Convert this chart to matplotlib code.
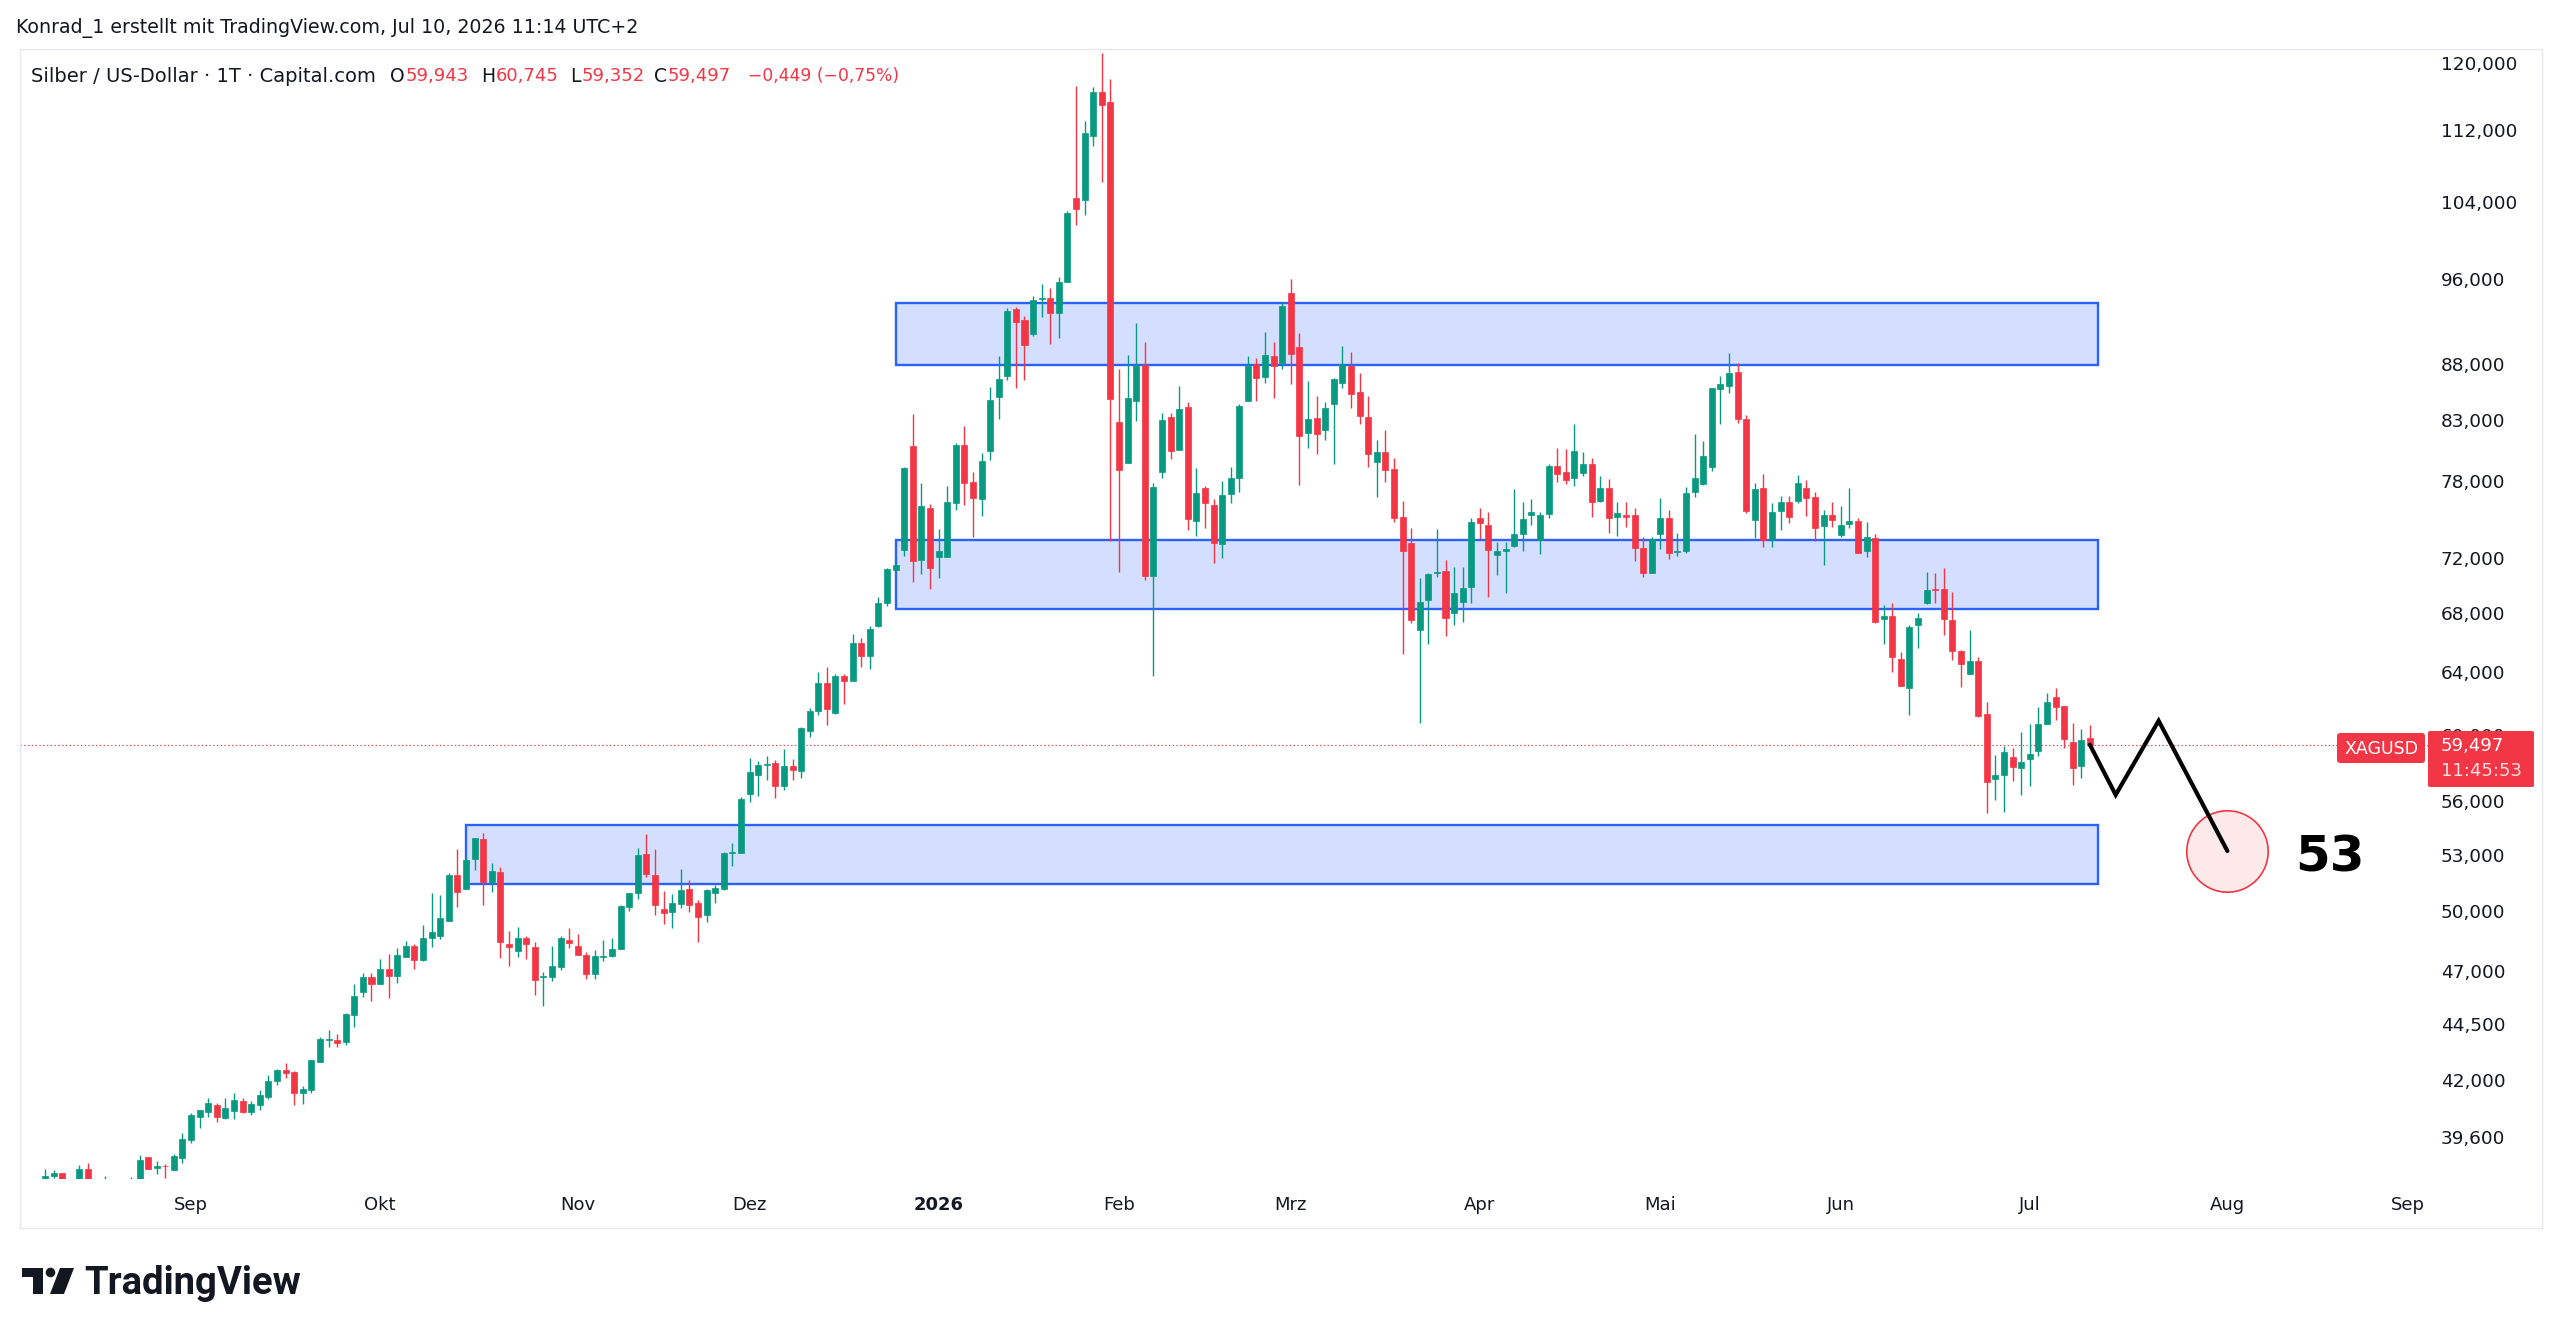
"""Silber / US-Dollar daily candles with support/resistance zones (TradingView look)."""
import matplotlib
matplotlib.use("Agg")
import matplotlib.pyplot as plt
import matplotlib.patches as mpatches
import matplotlib.transforms as mtransforms
import numpy as np
import pandas as pd

W, H, DPI = 2560, 1335, 100

GREEN = "#089981"
RED = "#f23645"
INK = "#131722"
BLUE = "#2962ff"

# trading calendar of the chart (weekdays minus a few holidays)
FIRST_DAY = "2025-08-07"
LAST_AXIS_DAY = "2026-09-30"
HOLIDAYS = ["2025-12-25", "2026-01-01", "2026-04-03"]

# daily OHLC, USD per ounce, Aug 7 2025 .. Jul 10 2026
OPEN = [
    37.95, 38.10, 38.23, 37.70, 37.90, 38.39, 37.90, 37.85, 37.95, 37.40,
    37.90, 38.00, 38.86, 38.43, 38.53, 38.36, 38.85, 39.55, 40.51, 40.72,
    41.00, 40.47, 40.75, 41.17, 40.72, 41.00, 41.35, 42.03, 42.54, 42.42,
    41.52, 41.66, 42.90, 43.85, 43.87, 43.77, 45.03, 46.09, 46.81, 46.49,
    47.21, 46.85, 47.78, 48.34, 47.65, 48.72, 48.86, 49.62, 52.01, 51.25,
    52.87, 53.97, 51.62, 52.16, 48.43, 48.11, 48.72, 48.27, 46.81, 46.81,
    47.32, 48.64, 48.34, 47.90, 46.97, 47.81, 47.86, 48.19, 50.30, 51.07,
    53.15, 52.01, 50.22, 50.05, 50.48, 51.27, 50.51, 49.91, 51.04, 51.27,
    53.23, 53.23, 56.56, 57.68, 58.29, 58.37, 57.03, 58.22, 57.92, 60.38,
    61.64, 63.40, 61.49, 63.90, 63.52, 66.08, 65.22, 67.23, 68.86, 71.27,
    72.76, 80.97, 72.01, 75.99, 72.21, 72.26, 76.38, 81.10, 78.04, 76.69,
    80.60, 85.17, 87.03, 93.29, 92.26, 90.95, 94.26, 94.36, 92.90, 95.99,
    104.68, 104.43, 111.56, 116.78, 115.59, 83.01, 79.62, 84.86, 88.07, 70.79,
    78.83, 83.50, 80.67, 84.36, 75.00, 77.55, 76.19, 73.21, 77.07, 78.34,
    84.86, 88.13, 87.01, 88.92, 88.28, 94.90, 89.74, 82.07, 83.41, 82.36,
    84.59, 86.42, 88.01, 85.63, 83.50, 79.71, 80.54, 79.10, 75.31, 73.27,
    66.99, 69.06, 71.03, 71.20, 68.20, 68.92, 70.00, 75.18, 74.66, 72.34,
    72.71, 73.09, 73.97, 75.39, 73.52, 75.52, 79.38, 78.89, 78.35, 78.81,
    79.52, 76.56, 77.55, 75.26, 75.44, 75.39, 72.89, 71.08, 73.97, 75.23,
    72.61, 72.66, 77.21, 77.90, 79.25, 85.91, 86.21, 87.41, 83.30, 75.05,
    77.53, 73.57, 75.77, 76.47, 76.52, 77.53, 76.86, 74.59, 75.43, 73.90,
    74.71, 74.93, 72.64, 73.64, 67.73, 67.99, 65.01, 63.12, 67.34, 68.91,
    69.87, 69.87, 67.69, 65.56, 64.01, 64.90, 61.42, 57.43, 57.65, 58.74,
    58.08, 58.60, 59.10, 60.80, 62.49, 61.96, 59.65, 58.18, 59.943,
]
HIGH = [
    38.39, 38.36, 38.24, 37.98, 38.55, 38.62, 37.99, 38.13, 38.00, 37.95,
    38.07, 38.96, 38.88, 38.72, 38.59, 39.00, 39.85, 40.68, 40.82, 41.32,
    41.10, 41.30, 41.53, 41.32, 41.17, 41.66, 42.30, 42.58, 42.83, 42.49,
    41.85, 42.97, 43.98, 44.32, 44.16, 45.12, 46.48, 47.03, 47.03, 47.70,
    47.92, 48.25, 48.59, 48.46, 49.40, 51.04, 50.95, 52.10, 53.41, 53.01,
    54.02, 54.30, 52.65, 52.43, 49.11, 49.31, 48.84, 48.52, 47.05, 48.34,
    48.84, 49.23, 48.92, 48.06, 48.15, 48.64, 48.72, 50.43, 51.07, 53.50,
    54.26, 53.41, 51.16, 51.00, 52.32, 51.73, 50.68, 51.27, 51.48, 53.28,
    53.78, 56.39, 58.69, 58.52, 58.83, 58.57, 59.23, 58.62, 60.63, 61.79,
    64.17, 64.45, 64.00, 64.01, 66.70, 66.42, 67.29, 69.29, 71.39, 71.71,
    79.30, 83.74, 77.96, 76.30, 74.38, 77.69, 81.29, 82.65, 78.85, 80.40,
    86.13, 88.92, 93.39, 93.46, 92.64, 94.59, 95.76, 95.40, 96.42, 103.19,
    117.51, 113.29, 117.31, 121.49, 118.28, 87.71, 88.98, 91.99, 90.21, 77.95,
    83.79, 83.79, 86.14, 84.80, 79.16, 77.76, 76.69, 78.14, 79.29, 84.57,
    88.89, 88.74, 91.12, 90.18, 93.95, 96.21, 91.00, 86.65, 85.33, 84.80,
    86.89, 89.80, 89.28, 87.32, 85.30, 81.51, 82.36, 79.98, 76.53, 74.40,
    70.67, 71.03, 74.36, 72.02, 71.51, 71.51, 75.18, 75.96, 75.70, 73.39,
    73.39, 77.50, 76.43, 76.67, 75.65, 79.49, 80.87, 80.73, 82.87, 80.46,
    79.99, 78.54, 78.27, 76.48, 76.43, 75.96, 73.77, 73.70, 76.80, 75.83,
    74.03, 77.63, 82.00, 81.43, 86.03, 87.08, 89.19, 88.22, 83.64, 77.98,
    78.70, 76.39, 76.92, 76.89, 78.62, 78.20, 77.27, 75.82, 76.47, 76.14,
    77.53, 75.18, 74.85, 73.95, 68.74, 68.86, 65.50, 67.35, 68.15, 71.10,
    71.08, 71.40, 69.65, 65.62, 66.95, 65.12, 62.21, 58.86, 59.41, 59.31,
    60.28, 60.80, 61.89, 62.75, 63.12, 61.96, 60.88, 60.46, 60.745,
]
LOW = [
    37.80, 38.04, 37.60, 37.50, 37.80, 37.70, 37.70, 37.70, 37.30, 37.30,
    37.80, 37.90, 38.40, 38.21, 38.04, 38.36, 38.63, 39.44, 40.05, 40.51,
    40.29, 40.44, 40.44, 40.68, 40.58, 40.81, 41.26, 41.86, 42.16, 41.03,
    41.07, 41.55, 42.90, 43.56, 43.57, 43.65, 44.48, 45.85, 45.69, 46.49,
    45.80, 46.52, 47.78, 47.21, 47.57, 48.30, 48.67, 49.62, 50.34, 51.25,
    52.29, 50.43, 51.13, 47.73, 47.37, 47.78, 47.70, 45.96, 45.44, 46.62,
    47.13, 48.25, 47.87, 46.70, 46.73, 47.57, 47.81, 48.19, 50.13, 50.74,
    51.92, 49.91, 49.44, 49.23, 50.25, 50.08, 48.52, 49.57, 50.55, 51.21,
    52.52, 53.23, 56.06, 56.44, 57.40, 56.34, 56.76, 57.40, 57.48, 59.97,
    61.35, 60.74, 61.45, 62.03, 63.52, 64.49, 64.31, 67.17, 68.69, 71.16,
    72.27, 70.40, 70.98, 69.91, 70.71, 72.20, 75.79, 76.23, 73.71, 75.33,
    79.80, 83.28, 86.67, 85.98, 86.73, 90.70, 92.51, 90.04, 90.58, 95.99,
    101.77, 102.83, 110.42, 106.43, 73.40, 71.15, 79.57, 83.13, 70.55, 63.89,
    78.34, 79.90, 80.67, 74.27, 73.84, 74.39, 71.76, 72.13, 76.35, 77.28,
    84.86, 84.86, 86.42, 85.10, 87.68, 86.33, 77.80, 80.81, 80.34, 81.53,
    79.49, 85.98, 84.21, 82.87, 79.24, 76.88, 78.07, 74.87, 65.34, 67.50,
    60.85, 66.00, 70.74, 66.54, 67.31, 67.54, 68.87, 73.57, 69.29, 70.91,
    69.58, 72.94, 72.69, 74.66, 72.46, 75.18, 78.03, 77.90, 77.70, 78.49,
    75.31, 76.48, 74.03, 73.83, 74.53, 71.95, 70.74, 71.08, 72.82, 72.08,
    72.28, 72.53, 76.88, 77.77, 78.96, 82.87, 85.53, 82.98, 75.57, 73.65,
    72.97, 72.97, 74.28, 74.84, 76.34, 75.35, 73.40, 71.64, 74.48, 73.72,
    74.41, 72.51, 72.26, 67.50, 66.03, 64.17, 63.23, 61.33, 65.78, 68.82,
    68.91, 66.64, 64.96, 63.14, 64.01, 61.22, 55.44, 56.21, 55.53, 57.29,
    56.50, 57.03, 58.80, 60.80, 61.01, 59.30, 57.09, 57.48, 59.352,
]
CLOSE = [
    38.13, 38.23, 37.70, 37.85, 38.39, 37.90, 37.80, 37.95, 37.40, 37.90,
    38.00, 38.76, 38.41, 38.52, 38.50, 38.92, 39.60, 40.61, 40.79, 41.10,
    40.51, 40.89, 41.21, 40.71, 41.04, 41.43, 42.04, 42.54, 42.39, 41.52,
    41.69, 42.95, 43.92, 43.89, 43.72, 45.06, 45.92, 46.81, 46.49, 47.18,
    46.85, 47.87, 48.34, 47.65, 48.72, 49.06, 49.74, 52.01, 51.13, 52.83,
    54.02, 51.62, 52.23, 48.52, 48.30, 48.72, 48.43, 46.65, 46.86, 47.37,
    48.75, 48.47, 47.90, 46.97, 47.84, 47.86, 48.19, 50.38, 51.07, 53.10,
    52.06, 50.40, 49.99, 50.51, 51.21, 50.43, 49.82, 51.21, 51.34, 53.19,
    53.28, 56.26, 57.82, 58.28, 58.34, 56.99, 58.18, 57.98, 60.53, 61.64,
    63.40, 61.74, 63.90, 63.56, 66.08, 65.22, 67.04, 68.86, 71.32, 71.64,
    79.17, 71.94, 76.10, 71.44, 72.68, 76.42, 81.10, 77.96, 76.74, 79.77,
    84.96, 86.78, 93.12, 92.10, 89.92, 94.20, 94.39, 92.90, 95.99, 103.08,
    103.44, 111.95, 116.70, 115.19, 85.02, 79.02, 85.10, 87.98, 70.79, 77.68,
    83.16, 80.59, 84.13, 75.10, 77.15, 76.40, 73.26, 77.02, 78.34, 84.42,
    87.98, 86.92, 88.95, 88.01, 93.59, 89.03, 81.84, 83.30, 82.02, 84.21,
    86.83, 88.13, 85.48, 83.59, 80.34, 80.54, 79.02, 75.18, 72.64, 67.69,
    68.94, 70.99, 71.11, 67.81, 69.59, 69.95, 74.92, 74.84, 72.76, 72.69,
    72.84, 73.95, 75.10, 75.70, 75.39, 79.38, 78.70, 78.17, 80.62, 79.52,
    76.43, 77.55, 75.18, 75.57, 75.26, 72.89, 71.08, 73.57, 75.18, 72.53,
    72.66, 77.15, 78.35, 80.18, 85.97, 86.36, 87.32, 83.27, 75.78, 77.45,
    73.47, 75.69, 76.47, 75.30, 77.93, 76.73, 74.41, 75.43, 75.05, 74.66,
    74.97, 72.51, 73.72, 67.57, 67.99, 65.17, 63.23, 67.18, 67.80, 69.82,
    69.82, 67.73, 65.56, 64.66, 64.90, 61.31, 57.23, 57.65, 59.06, 58.12,
    58.43, 58.96, 60.78, 62.17, 61.89, 59.85, 58.08, 59.81, 59.497,
]

# drawn zones: start day, end day, lower price, upper price
ZONE_START = ["2025-12-24", "2025-12-24", "2025-10-15"]
ZONE_END = ["2026-07-13", "2026-07-13", "2026-07-13"]
ZONE_LOW = [88.07, 68.43, 51.53]
ZONE_HIGH = [93.86, 73.50, 54.77]

# projected path and target
PATH_DAYS = ["2026-07-10", "2026-07-15", "2026-07-22", "2026-08-03"]
PATH_PRICES = [59.497, 56.50, 60.99, 53.32]
TARGET_LABEL = "53"

PRICE_TICKS = [39.6, 42, 44.5, 47, 50, 53, 56, 60, 64, 68, 72, 78, 83, 88,
               96, 104, 112, 120]
MONTHS_DE = {2: "Feb", 3: "Mrz", 4: "Apr", 5: "Mai", 6: "Jun", 7: "Jul",
             8: "Aug", 9: "Sep", 10: "Okt", 11: "Nov", 12: "Dez"}

HEADER = "Konrad_1 erstellt mit TradingView.com, Jul 10, 2026 11:14 UTC+2"
SYMBOL = "Silber / US-Dollar · 1T · Capital.com"
OHLC_TEXT = [("O", "59,943"), ("H", "60,745"), ("L", "59,352"), ("C", "59,497")]
CHANGE_TEXT = "−0,449 (−0,75%)"
COUNTDOWN = "11:45:53"

FONT = ["DejaVu Sans"]


def de_price(v):
    return f"{v:.3f}".replace(".", ",")


def main():
    days = pd.bdate_range(FIRST_DAY, LAST_AXIS_DAY)
    days = days.drop(pd.to_datetime(HOLIDAYS))
    pos = {d: i for i, d in enumerate(days)}

    def p(day):
        return pos[pd.Timestamp(day)]

    fig = plt.figure(figsize=(W / DPI, H / DPI), dpi=DPI, facecolor="white")
    ax = fig.add_axes([20 / W, 1 - 1179 / H, 2408 / W, 1130 / H], zorder=1)
    ax.set_yscale("log")
    ax.set_xlim(-2.91, 277.35)
    ax.set_ylim(38.0, 122.04)
    ax.axis("off")

    o, h, l, c = map(np.asarray, (OPEN, HIGH, LOW, CLOSE))
    x = np.arange(len(c))
    up = c >= o
    colors = np.where(up, GREEN, RED)
    ax.vlines(x, l, h, colors=colors, lw=1.0, zorder=3)
    ax.bar(x, np.abs(c - o), bottom=np.minimum(o, c), width=0.7,
           color=colors, edgecolor=colors, lw=0.5, zorder=4)

    for s, e, lo, hi in zip(ZONE_START, ZONE_END, ZONE_LOW, ZONE_HIGH):
        ax.add_patch(mpatches.Rectangle((p(s), lo), p(e) - p(s), hi - lo,
                                        facecolor=(41 / 255, 98 / 255, 1, 0.2),
                                        edgecolor=BLUE, lw=1.7, zorder=2))

    ax.axhline(c[-1], color=RED, lw=0.8, ls=(0, (1.2, 2.2)), zorder=1)

    px = [p(d) for d in PATH_DAYS]
    ax.scatter([px[-1]], [PATH_PRICES[-1]], s=58.6 ** 2, facecolor="#fde8ea",
               edgecolor=RED, lw=1.2, zorder=5)
    ax.plot(px, PATH_PRICES, color="black", lw=3.0, solid_joinstyle="miter",
            solid_capstyle="round", zorder=6)
    ax.annotate(TARGET_LABEL, xy=(px[-1], PATH_PRICES[-1]), xytext=(74, -5),
                textcoords="offset points", ha="center", va="center",
                fontsize=36, fontweight="bold", family=FONT, color="black")

    # time scale
    tx = mtransforms.blended_transform_factory(ax.transData, fig.transFigure)
    first = pd.Series(range(len(days)), index=days).groupby(
        [days.year, days.month]).first()
    for (yr, mo), idx in first.items():
        if days[idx].day > 5:
            continue
        label = str(yr) if mo == 1 else MONTHS_DE[mo]
        ax.text(idx, 1 - 1205 / H, label, transform=tx, ha="center",
                va="center", fontsize=13, family=FONT, color=INK,
                fontweight="bold" if mo == 1 else "normal", clip_on=False)

    # price scale
    ty = mtransforms.blended_transform_factory(fig.transFigure, ax.transData)
    for v in PRICE_TICKS:
        ax.text(2441 / W, v, de_price(v), transform=ty, ha="left",
                va="center", fontsize=13.3, family=FONT, color=INK,
                clip_on=False)

    # overlay in pixel coordinates
    ov = fig.add_axes([0, 0, 1, 1], zorder=5)
    ov.set_xlim(0, W)
    ov.set_ylim(H, 0)
    ov.axis("off")
    ov.patch.set_alpha(0)

    ov.add_patch(mpatches.Rectangle((20, 49), 2522, 1179, fill=False,
                                    edgecolor="#e6e8ee", lw=1.0))

    ov.add_patch(mpatches.FancyBboxPatch((2337, 733), 88, 30,
                                         boxstyle="round,pad=0,rounding_size=3",
                                         facecolor=RED, edgecolor="none"))
    ov.text(2381, 748.5, "XAGUSD", ha="center", va="center", fontsize=12.5,
            family=FONT, color="white")
    ov.add_patch(mpatches.FancyBboxPatch((2428, 731), 106, 56,
                                         boxstyle="round,pad=0,rounding_size=2",
                                         facecolor=RED, edgecolor="none"))
    ov.text(2441, 746, de_price(c[-1]), ha="left", va="center", fontsize=13,
            family=FONT, color="white")
    ov.text(2441, 771, COUNTDOWN, ha="left", va="center", fontsize=13,
            family=FONT, color="#fde0e3")

    ov.text(16, 28, HEADER, ha="left", va="center", fontsize=13.7,
            family=FONT, color=INK)

    fig.canvas.draw()
    rend = fig.canvas.get_renderer()
    ov.text(31, 76, SYMBOL, ha="left", va="center", fontsize=14,
            family=FONT, color=INK)
    for (letter, val), xs in zip(OHLC_TEXT, [390, 481, 570, 654]):
        t = ov.text(xs, 76, letter, ha="left", va="center", fontsize=13.5,
                    family=FONT, color=INK)
        wpx = t.get_window_extent(rend).width
        ov.text(xs + wpx + 1, 76, val, ha="left", va="center", fontsize=13,
                family=FONT, color=RED)
    ov.text(748, 76, CHANGE_TEXT, ha="left", va="center", fontsize=12.3,
            family=FONT, color=RED)

    # TradingView logo
    ov.add_patch(mpatches.Rectangle((21.5, 1268), 21, 9, color=INK, lw=0))
    ov.add_patch(mpatches.Rectangle((32.5, 1268), 10, 26, color=INK, lw=0))
    ov.add_patch(mpatches.Circle((50.5, 1272.5), 4.8, color=INK, lw=0))
    ov.add_patch(mpatches.Polygon([(60, 1268), (74, 1268), (64, 1294),
                                   (50, 1294)], closed=True, color=INK, lw=0))
    ov.text(84, 1294, "TradingView", ha="left", va="baseline", fontsize=27.5,
            family=["Roboto", "DejaVu Sans"], fontweight="bold", color=INK)

    fig.savefig("out.png", dpi=DPI, facecolor="white")


if __name__ == "__main__":
    main()
